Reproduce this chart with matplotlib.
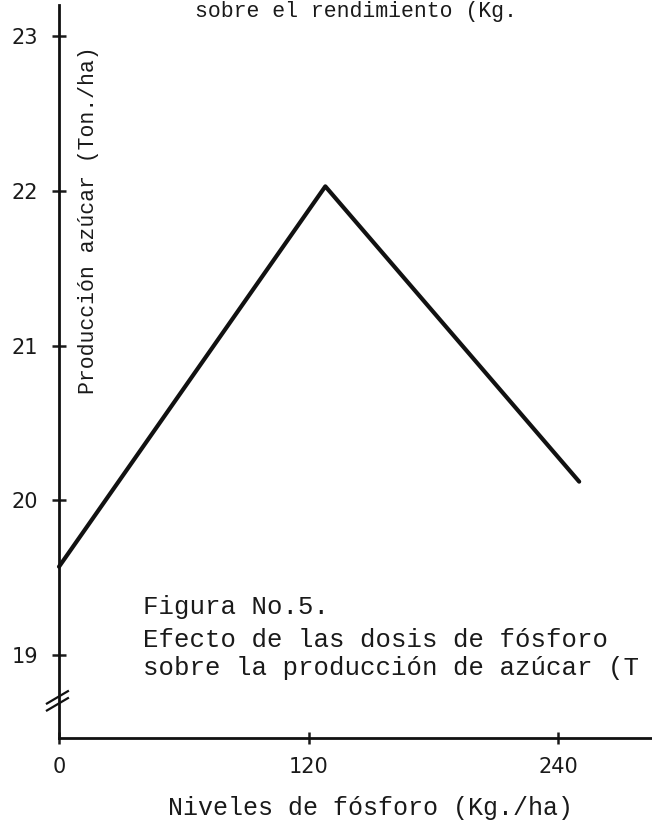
import matplotlib
matplotlib.use('Agg')
import matplotlib.pyplot as plt

# Data
fosforo = [0, 128, 250]            # Kg./ha
azucar = [19.57, 22.03, 20.12]     # Ton./ha
x_ticks = [0, 120, 240]
y_ticks = [19, 20, 21, 22, 23]

mono = 'Liberation Mono'
ink = '#1a1a1a'

fig = plt.figure(figsize=(6.52, 8.27), dpi=100)
fig.patch.set_facecolor('white')
ax = fig.add_axes([59 / 652, 1 - 738 / 827, 1 - 59 / 652, (738 - 5) / 827])

ax.plot(fosforo, azucar, color='#111111', linewidth=3.0,
        solid_joinstyle='round', solid_capstyle='round', clip_on=False)

ax.set_xlim(0, 285)
ax.set_ylim(18.462, 23.203)

for s in ['top', 'right']:
    ax.spines[s].set_visible(False)
for s in ['left', 'bottom']:
    ax.spines[s].set_linewidth(2.0)
    ax.spines[s].set_color('#111111')

ax.set_xticks(x_ticks)
ax.set_yticks(y_ticks)
ax.tick_params(axis='y', direction='inout', length=10, width=1.8,
               labelsize=15, pad=10, colors=ink)
ax.tick_params(axis='x', direction='inout', length=9, width=1.8,
               labelsize=15, pad=9, colors=ink)

# axis break marks on the y axis
for dy in [0, 0.045]:
    ax.plot([-5.8, 4.3], [18.64 + dy, 18.72 + dy], color='#111111',
            linewidth=1.6, clip_on=False)

# y label sits inside the axes, right of the spine
ax.text(0.05, 0.707, 'Producción azúcar (Ton./ha)', transform=ax.transAxes,
        rotation=90, ha='center', va='center', family=mono, fontsize=15.5,
        color=ink)

# x label
fig.text(370 / 652, 1 - 808 / 827, 'Niveles de fósforo (Kg./ha)',
         ha='center', va='center', family=mono, fontsize=18, color=ink)

# caption lines
fig.text(143 / 652, 1 - 607 / 827, 'Figura No.5.', ha='left', va='center',
         family=mono, fontsize=18.5, color=ink)
fig.text(143 / 652, 1 - 640 / 827, 'Efecto de las dosis de fósforo',
         ha='left', va='center', family=mono, fontsize=18.5, color=ink)
fig.text(143 / 652, 1 - 668 / 827, 'sobre la producción de azúcar (T',
         ha='left', va='center', family=mono, fontsize=18.5, color=ink)

# text left over from the previous caption at the top of the page
fig.text(195 / 652, 1 - 12 / 827, 'sobre el rendimiento (Kg.',
         ha='left', va='center', family=mono, fontsize=15.5, color=ink)

fig.savefig('out.png', dpi=100, facecolor='white')
